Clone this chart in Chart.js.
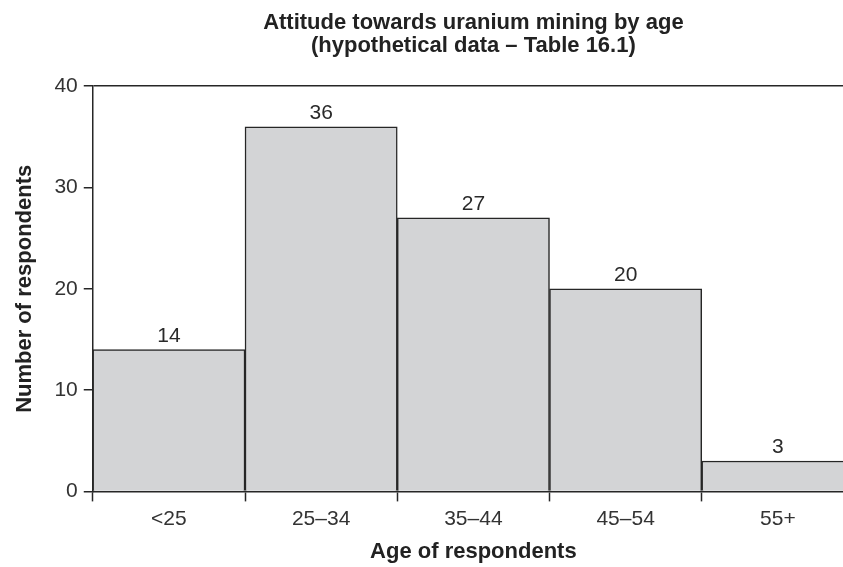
<!DOCTYPE html>
<html>
<head>
<meta charset="utf-8">
<script src="https://cdn.jsdelivr.net/npm/chart.js@4"></script>
<style>
html,body{margin:0;padding:0;background:#fff;overflow:hidden;}
#wrap{width:856px;height:567px;position:relative;}
</style>
</head>
<body>
<div id="wrap"><canvas id="c"></canvas></div>
<script>
const categories = ['<25', '25\u201334', '35\u201344', '45\u201354', '55+'];
const respondents = [14, 36, 27, 20, 3];
const yTicks = [0, 10, 20, 30, 40];

const FONT = "'Liberation Sans', Arial, sans-serif";

const valueLabels = {
  id: 'valueLabels',
  afterDatasetsDraw(chart) {
    const ctx = chart.ctx;
    const meta = chart.getDatasetMeta(0);
    ctx.save();
    ctx.font = "21px " + FONT;
    ctx.fillStyle = '#2a2a2a';
    ctx.textAlign = 'center';
    ctx.textBaseline = 'alphabetic';
    meta.data.forEach((bar, i) => {
      ctx.fillText(String(respondents[i]), bar.x, bar.y - 8);
    });
    ctx.restore();
  }
};

new Chart(document.getElementById('c'), {
  type: 'bar',
  data: {
    labels: categories,
    datasets: [{
      data: respondents,
      backgroundColor: '#d3d4d6',
      borderColor: '#262626',
      borderWidth: 1.5,
      categoryPercentage: 1,
      barPercentage: 1
    }]
  },
  options: {
    responsive: true,
    maintainAspectRatio: false,
    animation: false,
    layout: { padding: { top: 11, right: 2, bottom: 2, left: 12 } },
    plugins: {
      legend: { display: false },
      tooltip: { enabled: false },
      title: {
        display: true,
        fullSize: false,
        text: ['Attitude towards uranium mining by age', '(hypothetical data \u2013 Table 16.1)'],
        color: '#222',
        font: { family: FONT, size: 22, weight: 'bold', lineHeight: 1.05 },
        padding: { top: 0, bottom: 29 }
      }
    },
    scales: {
      x: {
        offset: true,
        grid: {
          offset: true,
          drawOnChartArea: false,
          tickLength: 10,
          tickColor: '#262626',
          tickWidth: 1.5
        },
        border: { display: true, color: '#262626', width: 1.5 },
        ticks: { color: '#333', font: { family: FONT, size: 21 }, padding: 5 },
        title: {
          display: true,
          text: 'Age of respondents',
          color: '#222',
          font: { family: FONT, size: 22, weight: 'bold' },
          padding: { top: 2, bottom: 0 }
        }
      },
      y: {
        min: 0,
        max: 40,
        afterBuildTicks(axis) { axis.ticks = yTicks.map(v => ({ value: v })); },
        grid: {
          drawOnChartArea: true,
          color: ctx => (ctx.tick && ctx.tick.value === 40) ? '#262626' : 'rgba(0,0,0,0)',
          lineWidth: 1.5,
          tickLength: 9,
          tickColor: '#262626',
          tickWidth: 1.5
        },
        border: { display: true, color: '#262626', width: 1.5 },
        ticks: { color: '#333', font: { family: FONT, size: 21 }, padding: 6 },
        title: {
          display: true,
          text: 'Number of respondents',
          color: '#222',
          font: { family: FONT, size: 22, weight: 'bold' },
          padding: { top: 0, bottom: 10 }
        }
      }
    }
  },
  plugins: [valueLabels]
});
</script>
</body>
</html>
